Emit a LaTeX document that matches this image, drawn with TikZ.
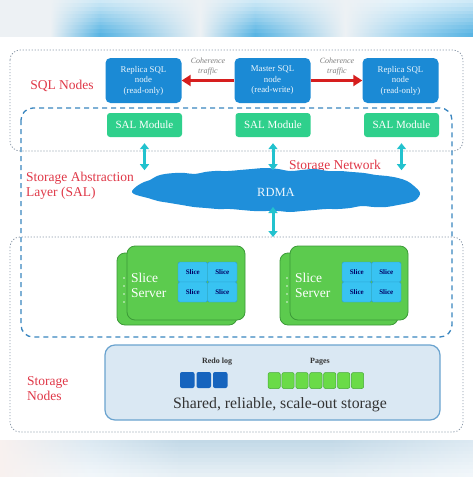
\documentclass[tikz,border=0pt]{standalone}
\usepackage{fontspec}
\setmainfont{Liberation Serif}
\usetikzlibrary{arrows.meta,calc}
\definecolor{sqlblue}{HTML}{1B8AD5}
\definecolor{salgreen}{HTML}{2FD08C}
\definecolor{arrred}{HTML}{D61E1E}
\definecolor{lblred}{HTML}{E03848}
\definecolor{cyanarr}{HTML}{22C2CE}
\definecolor{cloudblue}{HTML}{1F8FDA}
\definecolor{srvgreen}{HTML}{5CCB4E}
\definecolor{srvedge}{HTML}{3C9A38}
\definecolor{cellblue}{HTML}{38C3F2}
\definecolor{celledge}{HTML}{2A9FD2}
\definecolor{storefill}{HTML}{DAE8F3}
\definecolor{storeedge}{HTML}{6AA3CF}
\definecolor{redoblue}{HTML}{1664BE}
\definecolor{pagegreen}{HTML}{6ADB48}
\definecolor{pageedge}{HTML}{45AA35}
\definecolor{dotgray}{HTML}{8A98A8}
\definecolor{dashblue}{HTML}{3A86C0}
\definecolor{bandblue}{HTML}{58B4E3}
\definecolor{bandlight}{HTML}{9ED3EF}
\definecolor{bandwhite}{HTML}{EDF1F4}
\definecolor{lowblue}{HTML}{C3D9E7}
\definecolor{lowlight}{HTML}{DCE9F2}
\definecolor{lowpink}{HTML}{F8F1EF}
\begin{document}
\begin{tikzpicture}[x=1pt,y=-1pt,
  sqlnode/.style={rounded corners=5pt, fill=sqlblue, text=white!92!sqlblue, align=center,
    font=\fontsize{8.8}{10.5}\selectfont, minimum width=76pt, minimum height=45pt, inner sep=1pt},
  salbox/.style={rounded corners=3pt, fill=salgreen, text=white,
    font=\fontsize{11}{12}\selectfont, minimum width=75pt, minimum height=24pt, inner sep=1pt},
  redarrow/.style={arrred, line width=3.5pt, -{Triangle[length=9pt,width=11pt]}},
  cyanarrow/.style={cyanarr, line width=3pt, {Triangle[length=6pt,width=9pt]}-{Triangle[length=6pt,width=9pt]}},
  cohlabel/.style={text=gray, font=\fontsize{8}{10}\selectfont\itshape, align=center, inner sep=0pt},
  redlabel/.style={text=lblred, font=\fontsize{13.5}{15}\selectfont, align=left, inner sep=0pt},
  card/.style={rounded corners=8pt, fill=srvgreen, draw=srvedge, line width=0.8pt, inner sep=0pt},
  cell/.style={fill=cellblue, draw=celledge, line width=0.4pt, rounded corners=1.5pt,
    minimum width=29.5pt, minimum height=20pt, inner sep=0pt, text=blue!40!black,
    font=\fontsize{7}{8}\selectfont\bfseries},
  srvtext/.style={text=white, font=\fontsize{13.5}{15}\selectfont, align=left, inner sep=0pt},
  redo/.style={fill=redoblue, rounded corners=2pt, minimum width=14.5pt, minimum height=16pt, inner sep=0pt},
  page/.style={fill=pagegreen, draw=pageedge, line width=0.5pt, rounded corners=2pt, minimum width=12.3pt, minimum height=16pt, inner sep=0pt},
  dotbox/.style={draw=dotgray, line width=0.8pt, dash pattern=on 1.2pt off 1.8pt, rounded corners=10pt},
  dashbox/.style={draw=dashblue, line width=1.3pt, dash pattern=on 5pt off 4pt, rounded corners=12pt}
]
\useasboundingbox (0,0) rectangle (473,477);
\fill[white] (0,0) rectangle (473,477);

% top band: rows getting more saturated downwards
\foreach \r in {0,...,9}{
  \pgfmathsetmacro{\m}{30+70*\r/9}
  \pgfmathsetmacro{\ya}{\r*3.7}
  \pgfmathsetmacro{\yb}{\ya+3.8}
  \colorlet{cb}{bandblue!\m!white}
  \colorlet{cl}{bandlight!\m!white}
  \colorlet{cw}{bandwhite}
  \shade[left color=cw, right color=cw] (0,\ya) rectangle (50,\yb);
  \shade[left color=cw, right color=cb] (50,\ya) rectangle (100,\yb);
  \shade[left color=cb, right color=cw] (100,\ya) rectangle (200,\yb);
  \shade[left color=cw, right color=cb] (200,\ya) rectangle (255,\yb);
  \shade[left color=cb, right color=cw] (255,\ya) rectangle (345,\yb);
  \shade[left color=cw, right color=cl] (345,\ya) rectangle (405,\yb);
  \shade[left color=cl, right color=cb] (405,\ya) rectangle (473,\yb);
}
\fill[white] (0,37) rectangle (473,38);
% bottom band: rows getting lighter downwards
\foreach \r in {0,...,9}{
  \pgfmathsetmacro{\m}{100-60*\r/9}
  \pgfmathsetmacro{\ya}{440+\r*3.7}
  \pgfmathsetmacro{\yb}{\ya+3.8}
  \colorlet{db}{lowblue!\m!white}
  \colorlet{dl}{lowlight!\m!white}
  \shade[left color=lowpink, right color=dl] (0,\ya) rectangle (90,\yb);
  \shade[left color=dl, right color=db] (90,\ya) rectangle (180,\yb);
  \shade[left color=db, right color=db] (180,\ya) rectangle (330,\yb);
  \shade[left color=db, right color=dl] (330,\ya) rectangle (473,\yb);
}

% layer boxes
\draw[dotbox] (10,50) rectangle (463,151);
\draw[dotbox] (10,237) rectangle (463,432);
\draw[dashbox] (21,108) rectangle (452,337);

% SQL nodes
\node[sqlnode] (rep1) at (143.5,80.5) {Replica SQL\\node\\(read-only)};
\node[sqlnode] (master) at (272.5,80.5) {Master SQL\\node\\(read-write)};
\node[sqlnode] (rep2) at (400.5,80.5) {Replica SQL\\node\\(read-only)};
\draw[redarrow] (master.west) -- (rep1.east);
\draw[redarrow] (master.east) -- (rep2.west);
\node[cohlabel] (coh1) at (208,67) {Coherence\\traffic};
\node[cohlabel] (coh2) at (337,67) {Coherence\\traffic};

% SAL modules
\node[salbox] (sal1) at (144.5,125) {SAL Module};
\node[salbox] (sal2) at (273,125) {SAL Module};
\node[salbox] (sal3) at (401.5,125) {SAL Module};

% labels
\node[redlabel] (lsql) at (62,86) {SQL Nodes};
\node[redlabel] (lnet) at (335,166) {Storage Network};
\node[redlabel, anchor=west] (lsal) at (26,186) {Storage Abstraction\\Layer (SAL)};
\node[redlabel, anchor=west] (lsto) at (27,389) {Storage\\Nodes};

% cloud
\fill[cloudblue] plot[smooth cycle, tension=0.6] coordinates {
 (132,191) (137,186) (144,182) (150,180) (157,176) (165,174) (175,173) (185,173)
 (195,174) (205,172) (215,171) (228,171) (240,170) (252,169) (265,168) (278,169)
 (290,171) (302,170) (315,169) (328,171) (340,171) (352,172) (364,173) (376,175)
 (387,176) (398,178) (407,181) (414,186) (420,193) (416,200) (408,203) (398,205)
 (386,207) (374,207) (362,206) (350,208) (338,209) (326,209) (314,210) (302,211)
 (290,212) (278,211) (266,211) (254,211) (242,210) (230,209) (218,209) (206,208)
 (194,207) (182,205) (170,203) (158,201) (148,198) (140,196) (134,194)};
\node[text=white!92!cloudblue, font=\fontsize{12.5}{14}\selectfont, inner sep=0pt] (rdma) at (276,192) {RDMA};

% cyan arrows
\coordinate (a1t) at ($(sal1.south)+(0,6)$);
\coordinate (a1b) at ($(sal1.south)+(0,33)$);
\coordinate (a2t) at ($(sal2.south)+(0,6)$);
\coordinate (a2b) at ($(sal2.south)+(0,33)$);
\coordinate (a3t) at ($(sal3.south)+(0,6)$);
\coordinate (a3b) at ($(sal3.south)+(0,33)$);
\draw[cyanarrow] (a1t) -- (a1b);
\draw[cyanarrow] (a2t) -- (a2b);
\draw[cyanarrow] (a3t) -- (a3b);
\coordinate (a4t) at (273,207);
\coordinate (a4b) at (273,237);
\draw[cyanarrow] (a4t) -- (a4b);

% slice servers
\node[card, minimum width=120pt, minimum height=72pt] (back1) at (177,289) {};
\node[card, minimum width=118pt, minimum height=74pt] (front1) at (186,283) {};
\foreach \yy in {278,286,294,302} \fill[white!80!srvgreen] (124,\yy) circle (0.9pt);
\node[srvtext, anchor=west] (st1) at (131,285) {Slice\\Server};
\node[cell] (c1a) at (192.75,272) {Slice};
\node[cell] (c1b) at (222.25,272) {Slice};
\node[cell] (c1c) at (192.75,292) {Slice};
\node[cell] (c1d) at (222.25,292) {Slice};

\node[card, minimum width=118pt, minimum height=72pt] (back2) at (339,289) {};
\node[card, minimum width=118pt, minimum height=74pt] (front2) at (349,283) {};
\foreach \yy in {278,286,294,302} \fill[white!80!srvgreen] (287,\yy) circle (0.9pt);
\node[srvtext, anchor=west] (st2) at (295,285) {Slice\\Server};
\node[cell] (c2a) at (356.75,272) {Slice};
\node[cell] (c2b) at (386.25,272) {Slice};
\node[cell] (c2c) at (356.75,292) {Slice};
\node[cell] (c2d) at (386.25,292) {Slice};

% storage
\node[rounded corners=10pt, fill=storefill, draw=storeedge, line width=1.2pt,
  minimum width=335pt, minimum height=75pt, inner sep=0pt] (store) at (272.5,382.5) {};
\node[font=\fontsize{8}{9}\selectfont\bfseries, text=black!80, inner sep=0pt] (lredo) at (217,362) {Redo log};
\node[font=\fontsize{8}{9}\selectfont\bfseries, text=black!80, inner sep=0pt] (lpages) at (320,362) {Pages};
\foreach \i in {0,1,2} \node[redo] (r\i) at (187.25+16.5*\i,380) {};
\foreach \i in {0,...,6} \node[page] (p\i) at (274.15+13.9*\i,380.5) {};
\node[font=\fontsize{15.8}{18}\selectfont, text=black!80, inner sep=0pt] (lshared) at (280,405) {Shared, reliable, scale-out storage};
\end{tikzpicture}
\end{document}
